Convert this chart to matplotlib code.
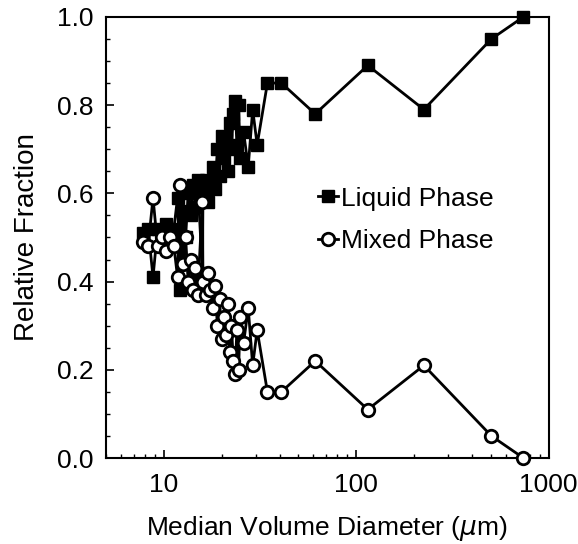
import numpy as np
import matplotlib
matplotlib.use("Agg")
import matplotlib.pyplot as plt
from matplotlib.lines import Line2D
from matplotlib.legend_handler import HandlerLine2D
from matplotlib.ticker import LogLocator, NullFormatter, MultipleLocator, FormatStrFormatter

plt.rcParams['font.family'] = ['Liberation Sans', 'DejaVu Sans']

# median volume diameter (um)
diameter = [7.8, 8.3, 8.8, 9.3, 9.8, 10.3, 10.8, 11.3, 11.8, 12.2,
            12.6, 13.0, 13.4, 13.8, 14.2, 14.6, 15.0, 15.9, 16.0, 16.5,
            17.0, 17.5, 18.0, 18.5, 19.0, 19.5, 20.0, 20.5, 21.0, 21.5,
            22.0, 22.5, 23.0, 23.5, 24.0, 24.5, 25.0, 26.0, 27.5, 29.0,
            30.6, 34.6, 40.9, 61.3, 115, 225, 505, 741]
liquid = [0.51, 0.52, 0.41, 0.52, 0.50, 0.53, 0.50, 0.52, 0.59, 0.38,
          0.56, 0.50, 0.60, 0.55, 0.62, 0.57, 0.63, 0.42, 0.60, 0.63,
          0.58, 0.62, 0.66, 0.61, 0.70, 0.64, 0.73, 0.68, 0.72, 0.65,
          0.76, 0.70, 0.78, 0.81, 0.71, 0.80, 0.68, 0.74, 0.66, 0.79,
          0.71, 0.85, 0.85, 0.78, 0.89, 0.79, 0.95, 1.00]
mixed = [0.49, 0.48, 0.59, 0.48, 0.50, 0.47, 0.50, 0.48, 0.41, 0.62,
         0.44, 0.50, 0.40, 0.45, 0.38, 0.43, 0.37, 0.58, 0.40, 0.37,
         0.42, 0.38, 0.34, 0.39, 0.30, 0.36, 0.27, 0.32, 0.28, 0.35,
         0.24, 0.30, 0.22, 0.19, 0.29, 0.20, 0.32, 0.26, 0.34, 0.21,
         0.29, 0.15, 0.15, 0.22, 0.11, 0.21, 0.05, 0.00]


class MarkerFirst(HandlerLine2D):
    # put the legend marker at the left end of the short line
    def get_xdata(self, legend, xdescent, ydescent, width, height, fontsize):
        xdata, _ = super().get_xdata(legend, xdescent, ydescent, width, height, fontsize)
        return xdata, [xdata[0] + 4]


fig = plt.figure(figsize=(5.78, 5.44), dpi=100)
ax = fig.add_axes([0.183, 0.158, 0.766, 0.811])

l1, = ax.plot(diameter, liquid, '-s', color='black', lw=2, ms=8,
              mfc='black', mec='black', clip_on=False, zorder=3)
l2, = ax.plot(diameter, mixed, '-o', color='black', lw=2, ms=9,
              mfc='white', mec='black', mew=2, clip_on=False, zorder=4)

ax.set_xscale('log')
ax.set_xlim(5, 1000)
ax.set_ylim(0, 1.0)
ax.set_xticks([10, 100, 1000])
ax.set_xticklabels(['10', '100', '1000'])
ax.xaxis.set_minor_locator(LogLocator(base=10, subs=np.arange(2, 10)))
ax.xaxis.set_minor_formatter(NullFormatter())
ax.yaxis.set_major_locator(MultipleLocator(0.2))
ax.yaxis.set_minor_locator(MultipleLocator(0.05))
ax.yaxis.set_major_formatter(FormatStrFormatter('%.1f'))
ax.tick_params(which='both', direction='in', top=False, right=False, labelsize=19)
ax.tick_params(axis='y', which='major', length=6, width=1.2, pad=9)
ax.tick_params(axis='x', which='major', length=6, width=1.2, pad=11)
ax.tick_params(which='minor', length=3, width=1)
for s in ax.spines.values():
    s.set_linewidth(1.5)

ax.set_xlabel('Median Volume Diameter ($\\mu$m)', fontsize=19, labelpad=12)
ax.set_ylabel('Relative Fraction', fontsize=20, labelpad=12)

ax.legend([l1, l2], ['Liquid Phase', 'Mixed Phase'], loc='center left',
          bbox_to_anchor=(0.45, 0.54), frameon=False, fontsize=19, borderpad=0,
          handlelength=0.75, handletextpad=0.1, labelspacing=0.7, numpoints=1,
          handler_map={Line2D: MarkerFirst()})

fig.savefig('out.png', dpi=100)
